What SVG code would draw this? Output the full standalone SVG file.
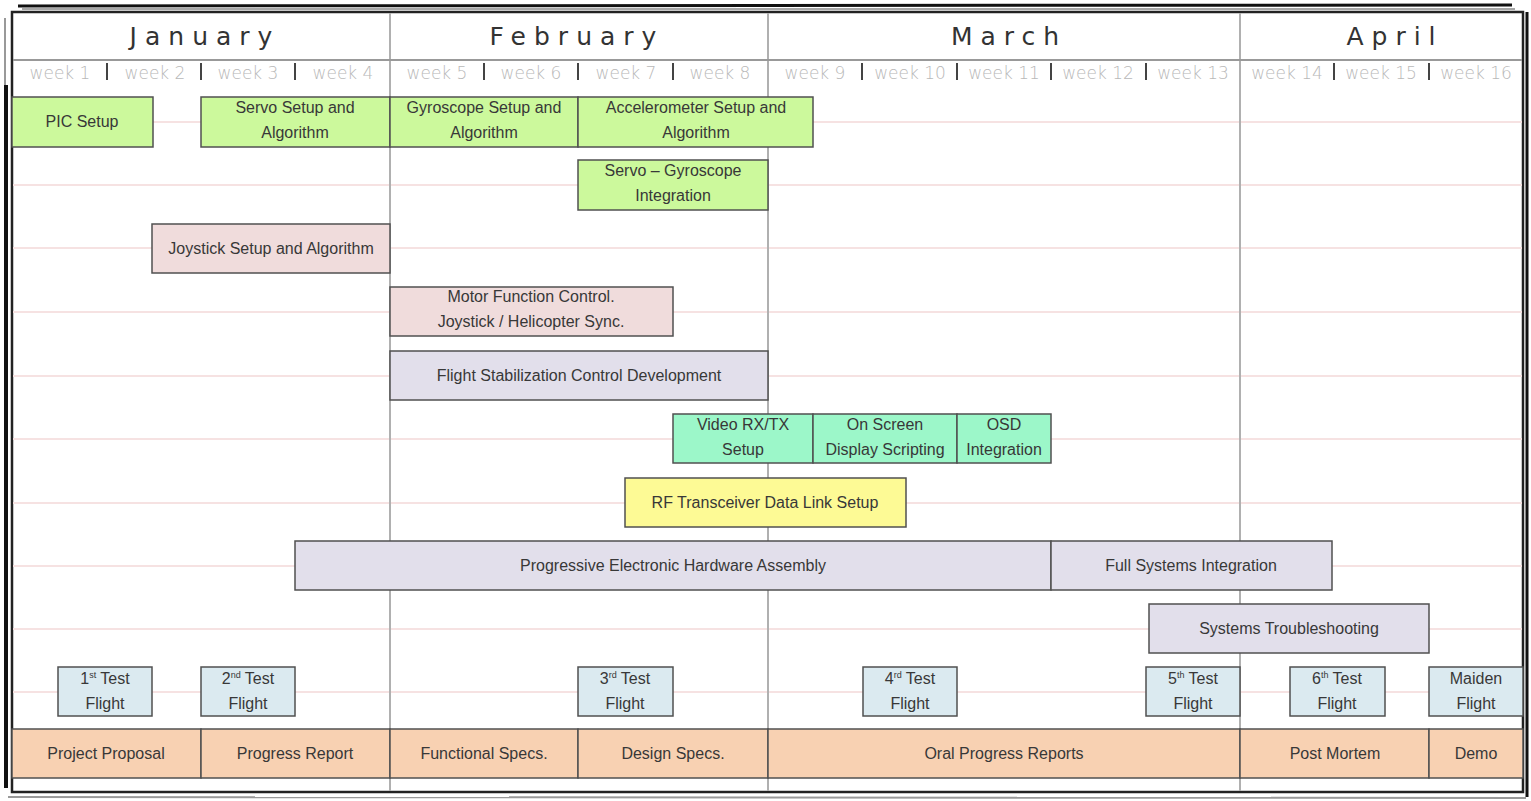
<svg xmlns="http://www.w3.org/2000/svg" width="1531" height="801" viewBox="0 0 1531 801">
<style>
.bx{stroke:#505050;stroke-width:1.5}
.g{fill:#ccf99c}.p{fill:#f0dcdc}.l{fill:#e2dfeb}.m{fill:#9cf7c9}.y{fill:#fdfa95}.b{fill:#dbeaf0}.o{fill:#f8d1b2}
.t{font-family:"Liberation Sans",Arial,sans-serif;font-size:16px;fill:#383838;text-anchor:middle}
.mo{font-family:"DejaVu Sans",sans-serif;font-size:25px;fill:#333;text-anchor:middle;letter-spacing:8px}
.wk{font-family:"DejaVu Sans",sans-serif;font-size:17px;fill:#b8b8b8;text-anchor:middle;font-weight:200}
.sup{font-size:9px}
.row{stroke:#f6e2e2;stroke-width:2}
.mline{stroke:#b0b0b0;stroke-width:2}
.wsep{stroke:#444;stroke-width:2}
</style>
<rect x="0" y="0" width="1531" height="801" fill="#fff"/>
<g id="frame">
<path d="M18,6 L1512,5" stroke="#111" stroke-width="3" fill="none"/>
<path d="M22,9 L1515,9" stroke="#888" stroke-width="1.5" fill="none"/>
<path d="M1527,12 L1527,797" stroke="#111" stroke-width="3" fill="none"/>
<path d="M8,797 L1526,798" stroke="#999" stroke-width="2" fill="none"/>
<path d="M6,85 L6,788" stroke="#111" stroke-width="4" fill="none"/>
<path d="M5,18 L5,85" stroke="#777" stroke-width="1.5" fill="none"/>
<rect x="12" y="12" width="1511" height="780" fill="#fff" stroke="#222" stroke-width="2.5"/>
</g>
<g id="grid">
<line class="row" x1="13" y1="122" x2="1522" y2="122"/>
<line class="row" x1="13" y1="185" x2="1522" y2="185"/>
<line class="row" x1="13" y1="248" x2="1522" y2="248"/>
<line class="row" x1="13" y1="312" x2="1522" y2="312"/>
<line class="row" x1="13" y1="376" x2="1522" y2="376"/>
<line class="row" x1="13" y1="439" x2="1522" y2="439"/>
<line class="row" x1="13" y1="503" x2="1522" y2="503"/>
<line class="row" x1="13" y1="566" x2="1522" y2="566"/>
<line class="row" x1="13" y1="629" x2="1522" y2="629"/>
<line class="row" x1="13" y1="692" x2="1522" y2="692"/>
<line class="mline" x1="390" y1="13" x2="390" y2="791"/>
<line class="mline" x1="768" y1="13" x2="768" y2="791"/>
<line class="mline" x1="1240" y1="13" x2="1240" y2="791"/>
<line x1="13" y1="60" x2="1522" y2="60" stroke="#999" stroke-width="2"/>
</g>
<g id="header">
<text class="mo" x="205" y="45">January</text>
<text class="mo" x="577" y="45">February</text>
<text class="mo" x="1009" y="45">March</text>
<text class="mo" x="1395" y="45">April</text>
<g id="weeks">
<text class="wk" x="60" y="79">week 1</text>
<text class="wk" x="155" y="79">week 2</text>
<text class="wk" x="248" y="79">week 3</text>
<text class="wk" x="343" y="79">week 4</text>
<text class="wk" x="437" y="79">week 5</text>
<text class="wk" x="531" y="79">week 6</text>
<text class="wk" x="626" y="79">week 7</text>
<text class="wk" x="720" y="79">week 8</text>
<text class="wk" x="815" y="79">week 9</text>
<text class="wk" x="910" y="79">week 10</text>
<text class="wk" x="1004" y="79">week 11</text>
<text class="wk" x="1098" y="79">week 12</text>
<text class="wk" x="1193" y="79">week 13</text>
<text class="wk" x="1287" y="79">week 14</text>
<text class="wk" x="1381" y="79">week 15</text>
<text class="wk" x="1476" y="79">week 16</text>
<line class="wsep" x1="107" y1="63" x2="107" y2="80"/>
<line class="wsep" x1="201" y1="63" x2="201" y2="80"/>
<line class="wsep" x1="295" y1="63" x2="295" y2="80"/>
<line class="wsep" x1="484" y1="63" x2="484" y2="80"/>
<line class="wsep" x1="578" y1="63" x2="578" y2="80"/>
<line class="wsep" x1="673" y1="63" x2="673" y2="80"/>
<line class="wsep" x1="862" y1="63" x2="862" y2="80"/>
<line class="wsep" x1="957" y1="63" x2="957" y2="80"/>
<line class="wsep" x1="1051" y1="63" x2="1051" y2="80"/>
<line class="wsep" x1="1146" y1="63" x2="1146" y2="80"/>
<line class="wsep" x1="1334" y1="63" x2="1334" y2="80"/>
<line class="wsep" x1="1429" y1="63" x2="1429" y2="80"/>
</g>
</g>
<g id="pic-setup"><rect class="bx g" x="12" y="97" width="141" height="50"/><text class="t" x="82" y="127">PIC Setup</text></g>
<g id="servo-setup"><rect class="bx g" x="201" y="97" width="189" height="50"/><text class="t" x="295" y="113">Servo Setup and</text><text class="t" x="295" y="138">Algorithm</text></g>
<g id="gyro-setup"><rect class="bx g" x="390" y="97" width="188" height="50"/><text class="t" x="484" y="113">Gyroscope Setup and</text><text class="t" x="484" y="138">Algorithm</text></g>
<g id="accel-setup"><rect class="bx g" x="578" y="97" width="235" height="50"/><text class="t" x="696" y="113">Accelerometer Setup and</text><text class="t" x="696" y="138">Algorithm</text></g>
<g id="servo-gyro"><rect class="bx g" x="578" y="160" width="190" height="50"/><text class="t" x="673" y="176">Servo – Gyroscope</text><text class="t" x="673" y="201">Integration</text></g>
<g id="joystick"><rect class="bx p" x="152" y="224" width="238" height="49"/><text class="t" x="271" y="254">Joystick Setup and Algorithm</text></g>
<g id="motor"><rect class="bx p" x="390" y="287" width="283" height="49"/><text class="t" x="531" y="302">Motor Function Control.</text><text class="t" x="531" y="327">Joystick / Helicopter Sync.</text></g>
<g id="flight-stab"><rect class="bx l" x="390" y="351" width="378" height="49"/><text class="t" x="579" y="381">Flight Stabilization Control Development</text></g>
<g id="video"><rect class="bx m" x="673" y="414" width="140" height="49"/><text class="t" x="743" y="430">Video RX/TX</text><text class="t" x="743" y="455">Setup</text></g>
<g id="osd-script"><rect class="bx m" x="813" y="414" width="144" height="49"/><text class="t" x="885" y="430">On Screen</text><text class="t" x="885" y="455">Display Scripting</text></g>
<g id="osd-int"><rect class="bx m" x="957" y="414" width="94" height="49"/><text class="t" x="1004" y="430">OSD</text><text class="t" x="1004" y="455">Integration</text></g>
<g id="rf"><rect class="bx y" x="625" y="478" width="281" height="49"/><text class="t" x="765" y="508">RF Transceiver Data Link Setup</text></g>
<g id="hw-assembly"><rect class="bx l" x="295" y="541" width="756" height="49"/><text class="t" x="673" y="571">Progressive Electronic Hardware Assembly</text></g>
<g id="full-int"><rect class="bx l" x="1051" y="541" width="281" height="49"/><text class="t" x="1191" y="571">Full Systems Integration</text></g>
<g id="troubleshoot"><rect class="bx l" x="1149" y="604" width="280" height="49"/><text class="t" x="1289" y="634">Systems Troubleshooting</text></g>
<g id="test1"><rect class="bx b" x="58" y="667" width="94" height="49"/><text class="t" x="105" y="684">1<tspan class="sup" dy="-6">st</tspan><tspan dy="6"> Test</tspan></text><text class="t" x="105" y="709">Flight</text></g>
<g id="test2"><rect class="bx b" x="201" y="667" width="94" height="49"/><text class="t" x="248" y="684">2<tspan class="sup" dy="-6">nd</tspan><tspan dy="6"> Test</tspan></text><text class="t" x="248" y="709">Flight</text></g>
<g id="test3"><rect class="bx b" x="578" y="667" width="95" height="49"/><text class="t" x="625" y="684">3<tspan class="sup" dy="-6">rd</tspan><tspan dy="6"> Test</tspan></text><text class="t" x="625" y="709">Flight</text></g>
<g id="test4"><rect class="bx b" x="863" y="667" width="94" height="49"/><text class="t" x="910" y="684">4<tspan class="sup" dy="-6">rd</tspan><tspan dy="6"> Test</tspan></text><text class="t" x="910" y="709">Flight</text></g>
<g id="test5"><rect class="bx b" x="1146" y="667" width="94" height="49"/><text class="t" x="1193" y="684">5<tspan class="sup" dy="-6">th</tspan><tspan dy="6"> Test</tspan></text><text class="t" x="1193" y="709">Flight</text></g>
<g id="test6"><rect class="bx b" x="1290" y="667" width="95" height="49"/><text class="t" x="1337" y="684">6<tspan class="sup" dy="-6">th</tspan><tspan dy="6"> Test</tspan></text><text class="t" x="1337" y="709">Flight</text></g>
<g id="maiden"><rect class="bx b" x="1429" y="667" width="94" height="49"/><text class="t" x="1476" y="684">Maiden</text><text class="t" x="1476" y="709">Flight</text></g>
<g id="proposal"><rect class="bx o" x="12" y="729" width="189" height="49"/><text class="t" x="106" y="759">Project Proposal</text></g>
<g id="progress"><rect class="bx o" x="201" y="729" width="189" height="49"/><text class="t" x="295" y="759">Progress Report</text></g>
<g id="functional"><rect class="bx o" x="390" y="729" width="188" height="49"/><text class="t" x="484" y="759">Functional Specs.</text></g>
<g id="design"><rect class="bx o" x="578" y="729" width="190" height="49"/><text class="t" x="673" y="759">Design Specs.</text></g>
<g id="oral"><rect class="bx o" x="768" y="729" width="472" height="49"/><text class="t" x="1004" y="759">Oral Progress Reports</text></g>
<g id="postmortem"><rect class="bx o" x="1240" y="729" width="189" height="49"/><text class="t" x="1335" y="759">Post Mortem</text></g>
<g id="demo"><rect class="bx o" x="1429" y="729" width="94" height="49"/><text class="t" x="1476" y="759">Demo</text></g>
</svg>
